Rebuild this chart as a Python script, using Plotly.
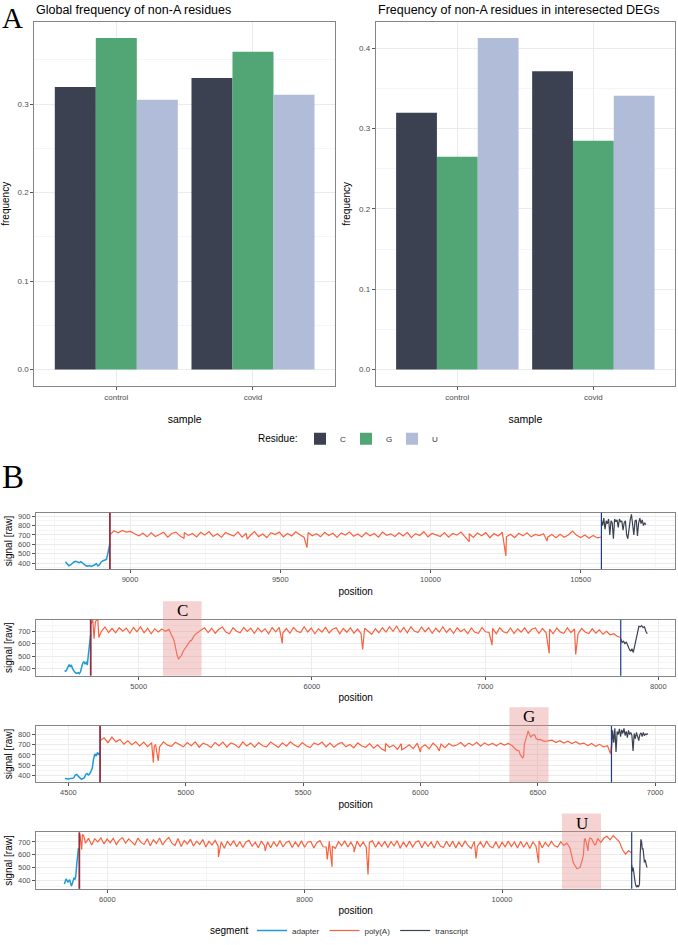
import numpy as np
import plotly.graph_objects as go

W, H = 678, 945

# ---------------- Panel A data ----------------
samples = ["control", "covid"]
residues = ["C", "G", "U"]
global_C = [0.3195, 0.3296]
global_G = [0.3747, 0.3592]
global_U = [0.3050, 0.3106]
deg_C = [0.3197, 0.3715]
deg_G = [0.2650, 0.2850]
deg_U = [0.4127, 0.3410]

# ---------------- Panel B data ----------------
# signal traces: (start position, end position, raw values) per segment + extra read-off spikes
b1_adapter = (8785, 8933, [415, 395, 372, 380, 400, 412, 418, 410, 405, 415, 398, 385, 372, 368,
                           375, 365, 372, 380, 395, 370, 385, 415, 425, 430, 440, 520, 610])
b1_polya = (8933, 10569, [700, 745, 722, 748, 730, 738, 712, 690, 718, 680,
                          722, 684, 705, 728, 676, 715, 730, 688, 725, 695,
                          716, 678, 728, 700, 735, 684, 712, 675, 726, 706,
                          688, 732, 676, 718, 694, 736, 682, 710, 672, 724,
                          705, 730, 680, 716, 690, 734, 702, 676, 726, 692,
                          712, 680, 728, 694, 718, 674, 722, 700, 732, 686,
                          710, 678, 726, 692, 716, 676, 730, 696, 712, 684,
                          724, 688, 728, 672, 714, 694, 734, 680, 716, 700,
                          684, 726, 676, 716, 698, 730, 682, 712, 674, 720,
                          692, 724, 670, 714, 688, 728, 680, 708, 672, 718,
                          690, 722, 680, 706, 694, 712, 676, 704, 670, 708,
                          676, 700, 742, 696, 672, 700, 664, 694, 668, 678])
b1_polya_spikes = [(9180, 662), (9390, 655), (9589, 565), (10129, 628), (10251, 477), (10388, 636)]
b1_transcript = (10569, 10717, [860, 800, 880, 760, 850, 820, 870, 700, 850, 830, 660, 870, 840,
                                860, 780, 870, 840, 850, 750, 830, 850, 700, 660, 800, 860, 920,
                                780, 700, 850, 860, 690, 830, 880, 820, 860, 800, 830, 810])

b2_adapter = (4572, 4723, [385, 380, 395, 420, 432, 415, 430, 400, 380, 372, 365, 362, 368,
                           360, 375, 420, 445, 455, 440, 450, 430, 520, 610, 680])
b2_polya = (4723, 7783, [760, 690, 790, 700, 735, 690, 722, 688, 728, 700,
                         725, 684, 730, 696, 735, 688, 724, 680, 720, 694,
                         718,
                         700, 715, 655, 535, 488, 540, 590, 625, 660, 690, 710,
                         728, 690, 724, 684, 716, 734, 694, 680, 728, 700,
                         688, 730, 698, 724, 682, 726, 694, 720, 680, 730,
                         696, 732, 686, 722, 684, 730, 700, 690, 736, 694,
                         726, 680, 720, 694, 732, 686, 716, 728, 680, 722,
                         692, 728, 684, 718, 682, 724, 698, 676, 720, 688,
                         728, 694, 736, 700, 742, 692, 730, 688, 736, 702,
                         690, 734, 696, 728, 684, 724, 694, 736, 690, 722,
                         682, 728, 696, 718, 680, 726, 692, 684, 730, 696,
                         690, 724, 680, 728, 696, 686, 726, 682, 720, 694,
                         728, 684, 716, 726, 682, 722, 690, 718, 680, 726,
                         694, 684, 728, 690, 718, 680, 722, 694, 682, 720,
                         686, 712, 676, 700, 672, 680, 660, 650])
b2_polya_spikes = [(4735, 790), (4742, 640), (4750, 780), (4770, 650), (5192, 660), (5205, 620),
                   (5222, 505), (5230, 478), (5246, 505), (5267, 560), (5288, 605), (5304, 625),
                   (5320, 665), (5342, 690), (5829, 602), (6293, 554), (7040, 589), (7370, 523),
                   (7523, 514)]
b2_transcript = (7783, 7936, [640, 610, 620, 600, 615, 580, 560, 540, 560, 530, 580, 650, 700,
                              740, 735, 745, 730, 735, 700, 680])

b3_adapter = (4485, 4635, [370, 368, 372, 365, 370, 368, 372, 380, 405, 410, 395, 375, 370, 365,
                           372, 378, 410, 420, 405, 415, 440, 470, 560, 610, 590, 625, 600, 630])
b3_polya = (4635, 6814, [740, 768, 720, 775, 728, 752, 706, 738, 700, 728,
                         688, 726, 682, 720, 700, 678, 728, 696, 684, 724,
                         698, 680, 722, 690, 728, 676, 716, 700, 674, 722,
                         690, 726, 678, 718, 702, 672, 728, 688, 716, 676,
                         722, 690, 680, 726, 700, 674, 718, 686, 728, 698,
                         678, 722, 690, 672, 718, 700, 726, 680, 716, 676,
                         706, 722, 680, 702, 670, 718, 688, 676, 712, 666,
                         700, 660, 712, 676, 696, 656, 710, 670, 700, 662,
                         714, 672, 700, 660, 716, 680, 706, 672, 712, 686,
                         698, 722, 684, 716, 694, 724, 686, 718, 696, 712,
                         690, 716, 696, 712, 690, 650, 600, 700, 835, 790,
                         760, 752, 734, 738, 744, 722, 740, 716, 734, 712,
                         730, 706, 716, 692, 712, 684, 704, 680, 690, 700])
b3_polya_spikes = [(4862, 526), (4866, 690), (4883, 542), (5850, 640), (5920, 650), (6000, 630),
                   (6080, 640), (6420, 640), (6436, 572), (6440, 590), (6450, 760), (6455, 820),
                   (6465, 800), (6470, 775), (6486, 800), (6500, 750), (6810, 612)]
b3_transcript = (6814, 6969, [650, 840, 720, 860, 630, 830, 800, 855, 780, 845, 810, 860, 790,
                              830, 770, 840, 800, 820, 790, 640, 810, 760, 820, 790, 740, 800,
                              815, 780, 820, 790, 805, 800, 810])

b4_adapter = (5564, 5716, [370, 395, 410, 400, 385, 395, 405, 380, 355, 372, 410, 420, 405, 430,
                           520, 610, 650, 640])
b4_polya = (5716, 11314, [730, 758, 690, 728, 676, 724, 700, 732, 684, 722,
                          694, 728, 680, 716, 734, 690, 724, 700, 676, 730,
                          696, 680, 724, 670, 716, 688, 730, 676, 712, 734,
                          690, 672, 726, 664, 710, 684, 720, 668, 706, 680,
                          718, 660, 704, 676, 712, 666, 700, 650, 704, 672,
                          710, 662, 702, 656, 700, 712, 666, 698, 654, 706,
                          670, 700, 654, 702, 664, 710, 660, 696, 706, 656,
                          700, 664, 708, 658, 698, 704, 652, 696, 710, 662,
                          660, 704, 666, 650, 702, 670, 708, 660, 698, 654,
                          706, 664, 700, 656, 696, 708, 658, 700, 664, 704,
                          656, 702, 668, 710, 650, 700, 662, 706, 660, 698,
                          708, 654, 702, 664, 700, 652, 708, 668, 656, 704,
                          662, 706, 652, 700, 660, 708, 670, 648, 704, 664,
                          700, 656, 706, 666, 654, 702, 650, 698, 662, 706,
                          664, 700, 652, 704, 658, 698, 648, 700, 666, 706,
                          654, 696, 664, 704, 670, 660, 700, 672, 690, 652,
                          545, 505, 498, 560, 722, 690, 724, 676, 728, 696,
                          730, 744, 716, 748, 726, 700, 640, 604, 632, 612])
b4_polya_spikes = [(5722, 760), (5740, 640), (5760, 750), (7126, 583), (7600, 630), (8229, 562),
                   (8277, 505), (8500, 620), (8642, 445), (9737, 570), (10371, 536), (10735, 520),
                   (10760, 490), (10790, 500), (10825, 600), (10835, 720), (10872, 630),
                   (10890, 730), (10950, 680)]
b4_transcript = (11314, 11472, [520, 470, 500, 440, 420, 380, 355, 350, 360, 350, 355, 370, 600,
                                720, 700, 640, 650, 600, 540, 560, 520, 510, 500])

# segment boundaries (poly(A) start, transcript start)
polya_starts = [8933, 4723, 4635, 5716]
transcript_starts = [10569, 7783, 6814, 11314]
# highlighted non-A residue regions per panel (start, end, residue)
highlights = [None, (5140, 5363, "C"), (6379, 6546, "G"), (10608, 11003, "U")]

x_ranges = [[8687, 10815], [4407, 8098], [4362, 7086], [5277, 11756]]
y_ranges = [[336.6, 935], [344, 793], [335, 884], [333, 775]]
x_dticks = [(9000, 500, 250), (5000, 1000, 500), (4500, 500, 250), (6000, 2000, 1000)]

# ---------------- styling ----------------
col_res = {"C": "#3B4150", "G": "#52A675", "U": "#B1BDD8"}
col_seg = {"adapter": "#1D9BD5", "poly(A)": "#F8623E", "transcript": "#3B4252"}
FONT = "Liberation Sans, Arial, sans-serif"
SERIF = "Liberation Serif, Times New Roman, serif"
BORDER = "#858585"
GRID = "#EBEBEB"
MINOR = "#F5F5F5"
TICKC = "#4D4D4D"


def px(x):
    return x / W


def py(y):
    return 1 - y / H


def build(seg, spikes=()):
    x0, x1, vals = seg
    xs = np.linspace(x0, x1, len(vals))
    pts = sorted(list(zip(xs.tolist(), vals)) + list(spikes))
    return [p[0] for p in pts], [p[1] for p in pts]


fig = go.Figure()

# ---- Panel A bars
for res, gv, dv in [("C", global_C, deg_C), ("G", global_G, deg_G), ("U", global_U, deg_U)]:
    fig.add_trace(go.Bar(x=samples, y=gv, name=res, marker_color=col_res[res], marker_line_width=0,
                         xaxis="x", yaxis="y", legendgroup=res, showlegend=True, legend="legend",
                         offsetgroup=res))
    fig.add_trace(go.Bar(x=samples, y=dv, name=res, marker_color=col_res[res], marker_line_width=0,
                         xaxis="x2", yaxis="y2", legendgroup=res, showlegend=False, legend="legend",
                         offsetgroup=res))

# ---- Panel B signals
panels = [
    (b1_adapter, b1_polya, b1_polya_spikes, b1_transcript),
    (b2_adapter, b2_polya, b2_polya_spikes, b2_transcript),
    (b3_adapter, b3_polya, b3_polya_spikes, b3_transcript),
    (b4_adapter, b4_polya, b4_polya_spikes, b4_transcript),
]
for i, (ad, pa, sp, tr) in enumerate(panels):
    xa, ya = f"x{i + 3}", f"y{i + 3}"
    for name, seg, spk, lw in [("adapter", ad, (), 1.5), ("poly(A)", pa, sp, 1.2), ("transcript", tr, (), 1.2)]:
        xs, ys = build(seg, spk)
        fig.add_trace(go.Scatter(x=xs, y=ys, mode="lines", name=name,
                                 line=dict(color=col_seg[name], width=lw),
                                 xaxis=xa, yaxis=ya, legendgroup=name, legend="legend2",
                                 showlegend=(i == 0)))

layout = dict(
    width=W, height=H, margin=dict(l=0, r=0, t=0, b=0),
    paper_bgcolor="white", plot_bgcolor="white",
    font=dict(family=FONT, size=9, color="black"),
    barmode="group", bargap=0.1, bargroupgap=0,
    showlegend=True,
)


def axis_common():
    return dict(showline=True, mirror=True, linecolor=BORDER, linewidth=1,
                ticks="outside", ticklen=3, tickcolor="#555555", tickwidth=0.8,
                showgrid=True, gridcolor=GRID, gridwidth=0.8, zeroline=False,
                tickfont=dict(size=8, color=TICKC, family=FONT))


# Panel A axes
yA_dom = [py(389), py(21.7)]
for k, (dom, yr) in enumerate([([px(34.3), px(335)], [-0.0187, 0.3934]),
                               ([px(375.7), px(675)], [-0.0206, 0.4333])]):
    xn = "xaxis" if k == 0 else "xaxis2"
    yn = "yaxis" if k == 0 else "yaxis2"
    ax = axis_common()
    ax.update(domain=dom, anchor="y" if k == 0 else "y2", type="category",
              range=[-0.6, 1.6], title=dict(text="sample", font=dict(size=10.5), standoff=14))
    layout[xn] = ax
    ay = axis_common()
    ay.update(domain=yA_dom, anchor="x" if k == 0 else "x2", range=yr,
              tickmode="linear", tick0=0, dtick=0.1, tickformat=".1f",
              minor=dict(dtick=0.05, tick0=0, showgrid=True, gridcolor=MINOR, gridwidth=0.6, ticks=""),
              title=dict(text="frequency", font=dict(size=10), standoff=6))
    layout[yn] = ay

# Panel B axes
b_ydoms = [(516.7, 573.3), (624.3, 680.7), (731.3, 788.0), (838.5, 895.5)]
for i in range(4):
    n = i + 3
    ax = axis_common()
    t0, dt, mdt = x_dticks[i]
    ax.update(domain=[px(36), px(675.3)], anchor=f"y{n}", range=x_ranges[i],
              tickmode="linear", tick0=t0, dtick=dt, tickformat="d",
              minor=dict(dtick=mdt, tick0=t0, showgrid=True, gridcolor=MINOR, gridwidth=0.6, ticks=""),
              tickfont=dict(size=7.5, color=TICKC, family=FONT),
              title=dict(text="position", font=dict(size=10), standoff=4))
    layout[f"xaxis{n}"] = ax
    ay = axis_common()
    top, bot = b_ydoms[i]
    ay.update(domain=[py(bot), py(top)], anchor=f"x{n}", range=y_ranges[i],
              tickmode="linear", tick0=400, dtick=100, tickformat="d",
              minor=dict(dtick=50, tick0=400, showgrid=True, gridcolor=MINOR, gridwidth=0.6, ticks=""),
              tickfont=dict(size=7.5, color=TICKC, family=FONT),
              title=dict(text="signal [raw]", font=dict(size=10), standoff=3))
    layout[f"yaxis{n}"] = ay

layout["legend"] = dict(orientation="h", x=px(300), xanchor="left", y=py(442), yanchor="middle",
                        font=dict(size=8, color="#333333"), bgcolor="rgba(0,0,0,0)",
                        itemwidth=30, tracegroupgap=0, entrywidth=1)
layout["legend2"] = dict(orientation="h", x=px(252), xanchor="left", y=py(937.5), yanchor="middle",
                         font=dict(size=8, color="#333333"), bgcolor="rgba(0,0,0,0)",
                         itemwidth=30, tracegroupgap=0)

shapes = []
annotations = []
for i in range(4):
    n = i + 3
    shapes.append(dict(type="line", xref=f"x{n}", yref=f"y{n} domain", x0=polya_starts[i],
                       x1=polya_starts[i], y0=0, y1=1, line=dict(color="#932E40", width=1.8),
                       layer="above"))
    shapes.append(dict(type="line", xref=f"x{n}", yref=f"y{n} domain", x0=transcript_starts[i],
                       x1=transcript_starts[i], y0=0, y1=1, line=dict(color="#1F3C8C", width=1.2),
                       layer="above"))
    if highlights[i] is not None:
        s, e, lab = highlights[i]
        shapes.append(dict(type="rect", xref=f"x{n}", yref=f"y{n} domain", x0=s, x1=e, y0=0, y1=1.33,
                           fillcolor="rgba(232,140,140,0.38)", line=dict(width=0), layer="above"))
        annotations.append(dict(xref=f"x{n}", yref=f"y{n} domain", x=(s + e) / 2, y=1.16,
                                text=lab, showarrow=False, xanchor="center", yanchor="middle",
                                font=dict(family=SERIF, size=17, color="black")))

# legend titles
annotations.append(dict(xref="paper", yref="paper", x=px(299), y=py(442), text="Residue:",
                        showarrow=False, xanchor="right", yanchor="middle",
                        font=dict(size=10, color="black")))
annotations.append(dict(xref="paper", yref="paper", x=px(251), y=py(937.5), text="segment",
                        showarrow=False, xanchor="right", yanchor="middle",
                        font=dict(size=10, color="black")))

# titles and panel letters
annotations.append(dict(xref="paper", yref="paper", x=px(34.3), y=py(10), text="Global frequency of non-A residues",
                        showarrow=False, xanchor="left", yanchor="middle", font=dict(size=12.5, color="black")))
annotations.append(dict(xref="paper", yref="paper", x=px(375.7), y=py(10),
                        text="Frequency of non-A residues in interesected DEGs",
                        showarrow=False, xanchor="left", yanchor="middle", font=dict(size=12.5, color="black")))
annotations.append(dict(xref="paper", yref="paper", x=px(0), y=py(0), text="A", showarrow=False,
                        xanchor="left", yanchor="top", font=dict(family=SERIF, size=29, color="black")))
annotations.append(dict(xref="paper", yref="paper", x=px(0), y=py(481), text="B", showarrow=False,
                        xanchor="left", yanchor="middle", font=dict(family=SERIF, size=33, color="black")))

layout["shapes"] = shapes
layout["annotations"] = annotations
fig.update_layout(**layout)
fig.write_html("out.html")
